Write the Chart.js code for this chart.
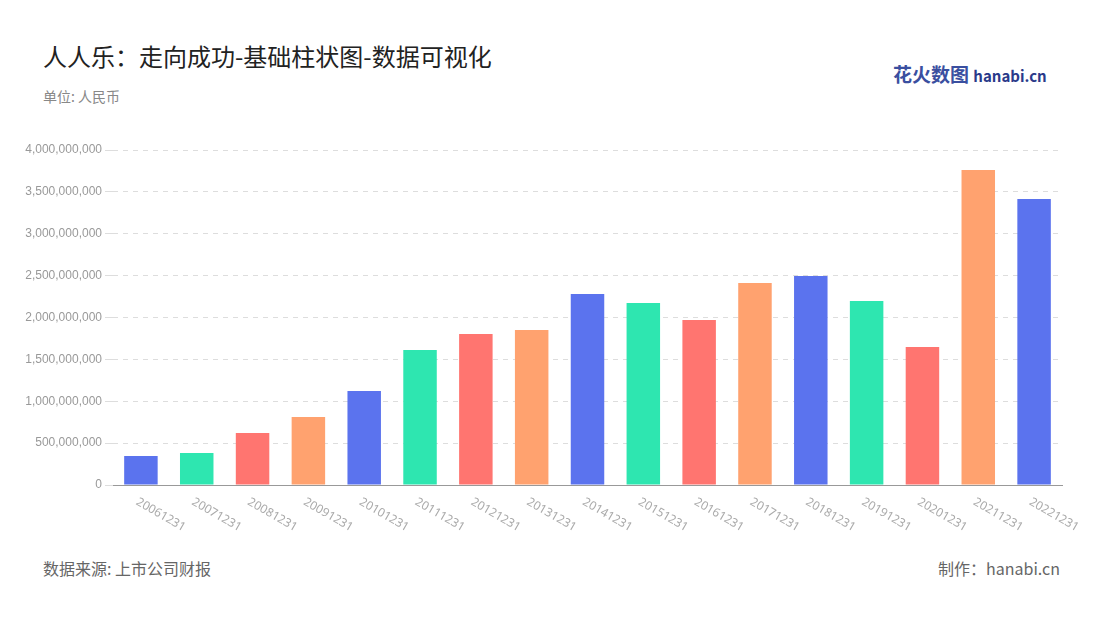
<!DOCTYPE html>
<html><head><meta charset="utf-8">
<script src="https://cdn.jsdelivr.net/npm/chart.js@4"></script>
<style>
body{margin:0;width:1100px;height:620px;background:#fff;font-family:"Noto Sans CJK SC","Noto Sans",sans-serif;position:relative;overflow:hidden}
#title{position:absolute;left:43px;top:38px;font-size:24px;color:#222}
#unit{position:absolute;left:43px;top:86px;font-size:14px;color:#888}
#src{position:absolute;left:43px;top:556px;font-size:16px;color:#666}
#made{position:absolute;right:40px;top:556px;font-size:16px;color:#666}
#logo{position:absolute;left:893px;top:60px;font-size:19px;font-weight:bold;color:#3a4fa0}
#logo span{font-size:15px;color:#2a3a8a}
#wrap{position:absolute;left:0;top:130px;width:1100px;height:420px}
</style></head><body>
<div id="title">人人乐：走向成功-基础柱状图-数据可视化</div>
<div id="unit">单位: 人民币</div>
<div id="logo">花火数图 <span>hanabi.cn</span></div>
<div id="wrap"><canvas id="c"></canvas></div>
<div id="src">数据来源: 上市公司财报</div>
<div id="made">制作：hanabi.cn</div>
<script>
const categories=["20061231","20071231","20081231","20091231","20101231","20111231","20121231","20131231","20141231","20151231","20161231","20171231","20181231","20191231","20201231","20211231","20221231"];
const values=[346000000,382000000,621000000,812000000,1122000000,1612000000,1803000000,1851000000,2281000000,2173000000,1970000000,2412000000,2496000000,2197000000,1648000000,3761000000,3415000000];
const palette=["#5b73ee","#2ee6b0","#ff7570","#ffa26f"];
const rotLabels={id:'rot',afterDraw(ch){const s=ch.scales.x,c=ch.ctx;c.save();c.font='12px "Noto Sans",sans-serif';c.fillStyle='#aaa';c.textAlign='left';c.textBaseline='middle';
categories.forEach((l,i)=>{const x=s.getPixelForTick(i);c.save();c.translate(x-4,s.top+16);c.rotate(Math.PI/6);c.fillText(l,0,0);c.restore();});c.restore();}};
new Chart(document.getElementById('c'),{type:'bar',data:{labels:categories,datasets:[{data:values,backgroundColor:categories.map((_,i)=>palette[i%4]),categoryPercentage:0.6,barPercentage:1}]},
options:{responsive:true,maintainAspectRatio:false,animation:false,layout:{padding:{left:10,right:38,top:20,bottom:0}},
plugins:{legend:{display:false},tooltip:{enabled:false}},
scales:{x:{grid:{display:false},border:{color:'#999'},ticks:{color:'rgba(0,0,0,0)',font:{size:13},maxRotation:0,autoSkip:false},afterFit(s){s.height=65}},
y:{min:0,max:4000000000,ticks:{stepSize:500000000,color:'#999',font:{size:12},callback:v=>v.toLocaleString('en-US')},grid:{color:'#ddd'},border:{display:false,dash:[5,5]},afterFit(s){s.width=103}}}}
,plugins:[rotLabels]});
</script></body></html>
